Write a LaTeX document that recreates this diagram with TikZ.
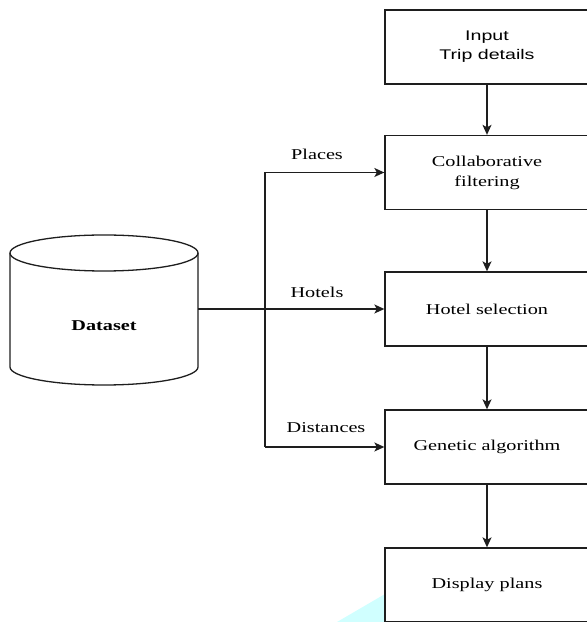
\documentclass[tikz,border=0pt]{standalone}
\usepackage{fontspec}
\usetikzlibrary{arrows.meta}
\newfontfamily\tmsw[FakeStretch=1.35]{Liberation Serif}
\newfontfamily\arsw[FakeStretch=1.4]{Liberation Sans}
\definecolor{ln}{RGB}{30,30,30}
\definecolor{wm}{RGB}{208,255,255}
\tikzset{
  procbox/.style={draw=ln, line width=1.3pt, fill=white, minimum width=204pt, minimum height=74pt, inner sep=0pt, align=center, font=\tmsw\fontsize{15}{20}\selectfont},
  flow/.style={draw=ln, line width=1.3pt, -{Stealth[length=10pt,width=9pt,inset=2.5pt]}},
  plain/.style={draw=ln, line width=1.3pt},
  lbl/.style={font=\tmsw\fontsize{15}{20}\selectfont, inner sep=0pt}
}
\begin{document}
\begin{tikzpicture}[x=1pt,y=1pt]
\useasboundingbox (0,0) rectangle (587,622);
\clip (0,0) rectangle (587,622);
% watermark fragment
\fill[wm] (337,0) -- (385,28) -- (385,0) -- cycle;
% process boxes
\node[procbox, font=\arsw\fontsize{14}{19}\selectfont] (inp) at (487,575) {Input\\Trip details};
\node[procbox] (cf) at (487,449.5) {Collaborative\\filtering};
\node[procbox] (hs) at (487,313) {Hotel selection};
\node[procbox] (ga) at (487,175) {Genetic algorithm};
\node[procbox] (dp) at (487,37) {Display plans};
% dataset cylinder
\draw[ln, line width=1.3pt, fill=white] (10,369) -- (10,255) arc[start angle=180, end angle=360, x radius=94, y radius=18] -- (198,369);
\draw[ln, line width=1.3pt] (104,369) ellipse [x radius=94, y radius=18];
\node[font=\tmsw\bfseries\fontsize{15}{20}\selectfont, inner sep=0pt] (ds) at (104,296) {Dataset};
\coordinate (dsr) at (198,313);
% vertical flow
\draw[flow] (inp) -- (cf);
\draw[flow] (cf) -- (hs);
\draw[flow] (hs) -- (ga);
\draw[flow] (ga) -- (dp);
% dataset connections
\coordinate (top) at (265,449.5);
\coordinate (bot) at (265,175);
\draw[plain] (top) -- (bot);
\draw[flow] (top) -- (cf.west);
\draw[flow] (bot) -- (ga.west);
\draw[flow] (dsr) -- (hs.west);
% labels
\node[lbl] (lp) at (317,468) {Places};
\node[lbl] (lh) at (317,330) {Hotels};
\node[lbl] (ld) at (326,194) {Distances};
\end{tikzpicture}
\end{document}
